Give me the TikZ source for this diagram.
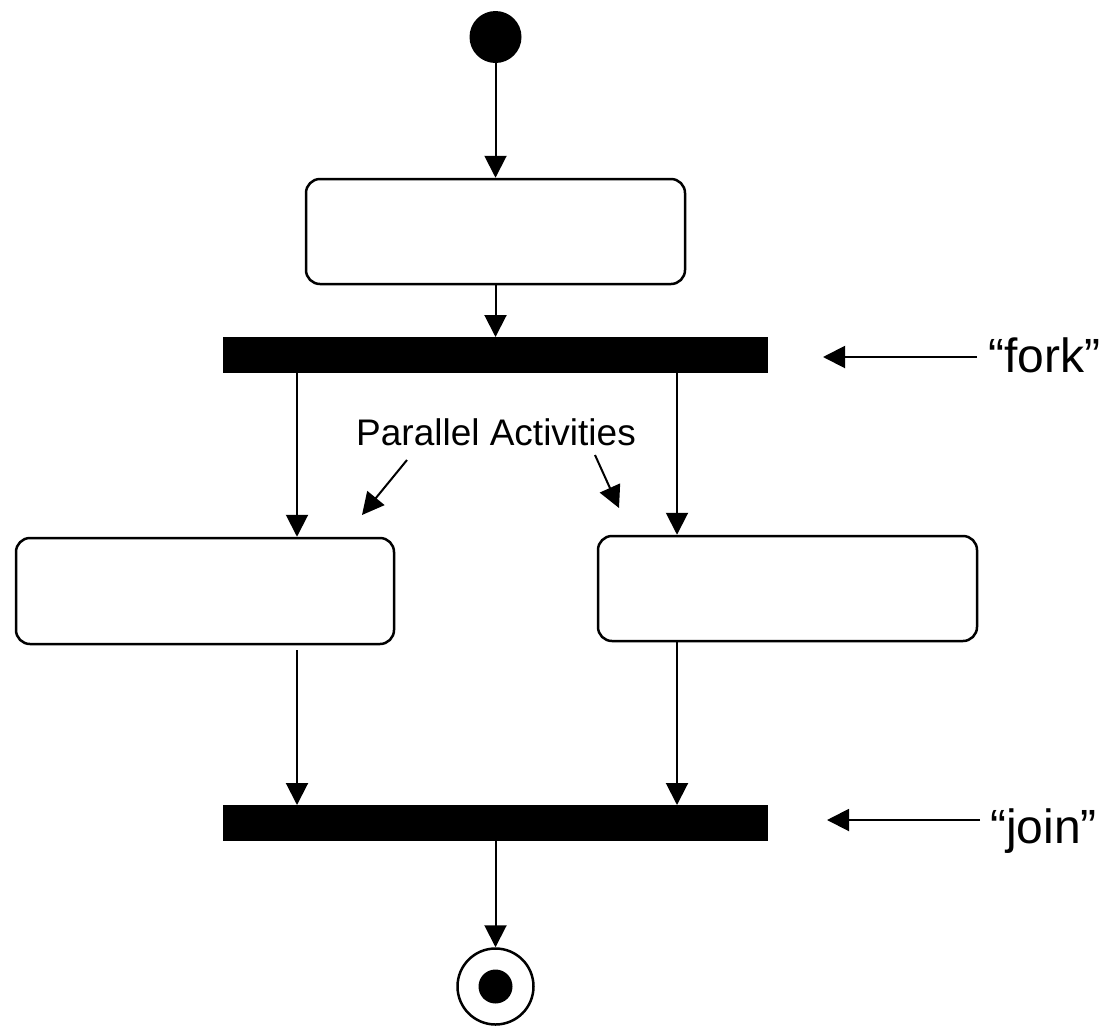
\documentclass[tikz,border=0pt]{standalone}
\usepackage{fontspec}
\setmainfont{Liberation Sans}
\usetikzlibrary{arrows.meta}
\begin{document}
\begin{tikzpicture}[x=1pt,y=-1pt,
  arr/.style={line width=2pt,-{Triangle[length=22pt,width=22pt]}},
  actbox/.style={draw,line width=2.5pt,rounded corners=14pt,minimum width=379pt,minimum height=105pt,inner sep=0pt},
  bar/.style={fill=black,draw=none,minimum width=545pt,minimum height=36pt,inner sep=0pt,outer sep=0pt},
  lbl/.style={inner sep=0pt,font=\fontsize{48}{56}\selectfont},
  note/.style={inner sep=0pt,font=\fontsize{37}{44}\selectfont}]
\useasboundingbox (0,0) rectangle (1116,1026);
% nodes
\node[circle,fill=black,minimum size=52pt,inner sep=0pt] (start) at (495.5,37) {};
\node[actbox] (box1) at (495.5,231.5) {};
\node[bar] (fork) at (495.5,355) {};
\node[actbox,minimum width=378pt,minimum height=106pt] (left) at (205,591) {};
\node[actbox] (right) at (787.5,588.5) {};
\node[bar] (join) at (495.5,823) {};
\node[circle,draw,line width=2.5pt,minimum size=76pt,inner sep=0pt] (final) at (495.5,986.5) {};
\node[circle,fill=black,minimum size=34pt,inner sep=0pt] (finaldot) at (495.5,986.5) {};
% labels
\node[note,anchor=base] (par) at (496,445) {Parallel Activities};
\node[lbl,anchor=base west] (forklbl) at (988,372) {“fork”};
\node[lbl,anchor=base west] (joinlbl) at (990,843) {“join”};
% helper coordinates
\coordinate (lx) at (297,0);
\coordinate (rx) at (677,0);
\coordinate (fa) at (977,357);
\coordinate (fb) at (823,357);
\coordinate (ja) at (980,820);
\coordinate (jb) at (827,820);
\coordinate (pl1) at (407,460);
\coordinate (pl2) at (362,515);
\coordinate (pr1) at (595,455);
\coordinate (pr2) at (619,508);
% connectors
\draw[arr] (start) -- (box1);
\draw[arr] (box1) -- (fork);
\draw[arr] (fork.south -| lx) -- (left.north -| lx);
\draw[arr] (fork.south -| rx) -- (right.north -| rx);
\draw[arr] ([yshift=-5pt]left.south -| lx) -- (join.north -| lx);
\draw[arr] (right.south -| rx) -- (join.north -| rx);
\draw[arr] (join) -- (final);
\draw[arr] (fa) -- (fb);
\draw[arr] (ja) -- (jb);
\draw[arr] (pl1) -- (pl2);
\draw[arr] (pr1) -- (pr2);
\end{tikzpicture}
\end{document}
